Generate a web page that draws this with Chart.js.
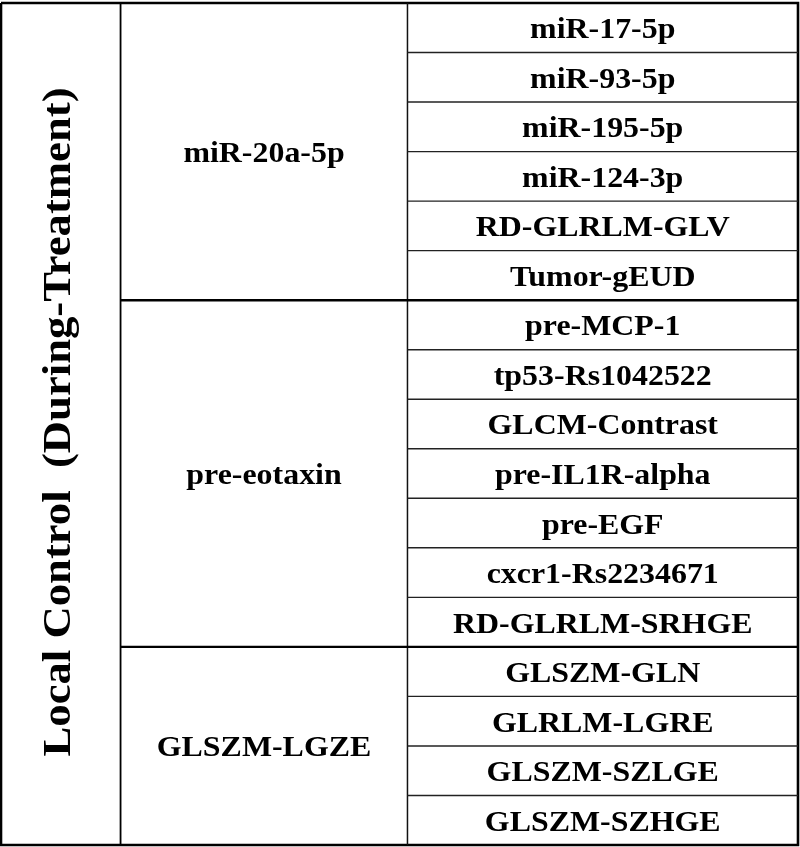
<!DOCTYPE html>
<html>
<head>
<meta charset="utf-8">
<script src="https://cdn.jsdelivr.net/npm/chart.js@4"></script>
<style>
  html, body { margin: 0; padding: 0; background: #fff; }
  #wrap { width: 800px; height: 847px; position: relative; }
</style>
</head>
<body>
<div id="wrap"><canvas id="chart"></canvas></div>
<script>
// table content
const title = "Local Control  (During-Treatment)";
const groups = ["miR-20a-5p", "pre-eotaxin", "GLSZM-LGZE"];
const groupSizes = [6, 7, 4];
const features = [
  "miR-17-5p", "miR-93-5p", "miR-195-5p", "miR-124-3p", "RD-GLRLM-GLV", "Tumor-gEUD",
  "pre-MCP-1", "tp53-Rs1042522", "GLCM-Contrast", "pre-IL1R-alpha", "pre-EGF",
  "cxcr1-Rs2234671", "RD-GLRLM-SRHGE",
  "GLSZM-GLN", "GLRLM-LGRE", "GLSZM-SZLGE", "GLSZM-SZHGE"
];

// column edges in percent of table width
const colEdges = [0, 15, 51, 100];
const nRows = features.length;

function rule(points, width, color) {
  return {
    data: points,
    showLine: true,
    borderColor: color || "#000",
    borderWidth: width,
    pointRadius: 0,
    clip: false
  };
}

let datasets = [];
// where the groups end
let groupEnds = [];
let acc = 0;
groupSizes.forEach(n => { acc += n; groupEnds.push(acc); });

for (let r = 1; r < nRows; r++) {
  if (groupEnds.includes(r)) {
    datasets.push(rule([{x: colEdges[1], y: r}, {x: colEdges[3], y: r}], 2.4));
  } else {
    datasets.push(rule([{x: colEdges[2], y: r}, {x: colEdges[3], y: r}], 1.4, "#222"));
  }
}
// column dividers
datasets.push(rule([{x: colEdges[1], y: 0}, {x: colEdges[1], y: nRows}], 1.8));
datasets.push(rule([{x: colEdges[2], y: 0}, {x: colEdges[2], y: nRows}], 1.5, "#111"));
// outer frame
datasets.push(rule([
  {x: 0, y: 0}, {x: 100, y: 0}, {x: 100, y: nRows}, {x: 0, y: nRows}, {x: 0, y: 0}
], 2.6));

const textPlugin = {
  id: "cellText",
  afterDatasetsDraw(chart) {
    const ctx = chart.ctx;
    const xs = chart.scales.x, ys = chart.scales.y;
    ctx.save();
    ctx.fillStyle = "#000";
    ctx.textAlign = "center";
    ctx.textBaseline = "middle";

    function label(txt, xv, yv, size, sx) {
      ctx.save();
      ctx.translate(xs.getPixelForValue(xv), ys.getPixelForValue(yv) + 3);
      ctx.scale(sx, 1);
      ctx.font = "bold " + size + "px 'Liberation Serif'";
      ctx.fillText(txt, 0, 0);
      ctx.restore();
    }

    // feature column
    const c3 = (colEdges[2] + colEdges[3]) / 2;
    features.forEach((f, i) => label(f, c3, i + 0.5, 29, 1.1));

    // group column
    const c2 = (colEdges[1] + colEdges[2]) / 2;
    let start = 0;
    groups.forEach((g, i) => {
      label(g, c2, start + groupSizes[i] / 2, 29, 1.1);
      start += groupSizes[i];
    });

    // rotated title
    ctx.save();
    ctx.translate(xs.getPixelForValue(7.3), ys.getPixelForValue(nRows / 2) - 2);
    ctx.rotate(-Math.PI / 2);
    ctx.scale(1.09, 1);
    ctx.font = "bold 41px 'Liberation Serif'";
    ctx.fillText(title, 0, 0);
    ctx.restore();

    ctx.restore();
  }
};

new Chart(document.getElementById("chart"), {
  type: "scatter",
  data: { datasets: datasets },
  options: {
    responsive: true,
    maintainAspectRatio: false,
    animation: false,
    events: [],
    layout: { padding: { top: 3, left: 1, right: 2, bottom: 2 } },
    scales: {
      x: { type: "linear", min: 0, max: 100, display: false },
      y: { type: "linear", min: 0, max: nRows, reverse: true, display: false }
    },
    plugins: {
      legend: { display: false },
      tooltip: { enabled: false }
    }
  },
  plugins: [textPlugin]
});
</script>
</body>
</html>
